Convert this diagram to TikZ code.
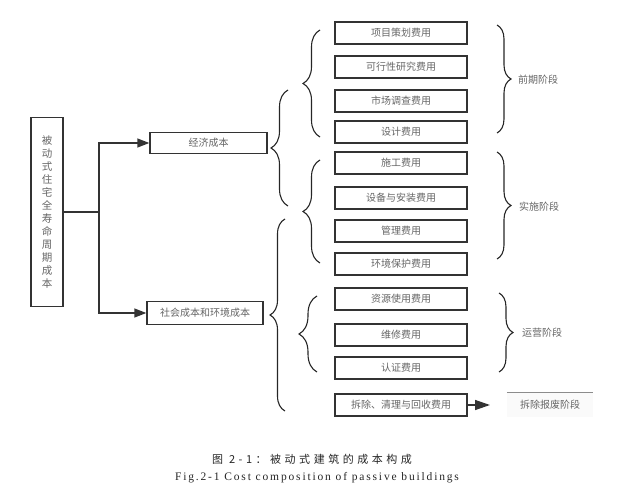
\documentclass[tikz,border=0pt]{standalone}
\usepackage{fontspec}
\setmainfont{Liberation Serif}
\newfontfamily\cjk{Noto Sans CJK SC}
\newfontfamily\cjkcap[LetterSpace=32]{Noto Sans CJK SC}
\newfontfamily\latcap[LetterSpace=16]{Liberation Serif}
\usetikzlibrary{arrows.meta,decorations.pathreplacing}
\definecolor{txt}{HTML}{666666}
\definecolor{edge}{HTML}{333333}
\tikzset{
  box/.style={draw=edge, line width=1.4pt, fill=white, text=txt, font=\cjk\fontsize{10}{11}\selectfont, inner sep=0pt},
  cost/.style={box, minimum width=132pt, minimum height=22pt},
  lab/.style={text=txt, font=\cjk\fontsize{10}{11}\selectfont, anchor=west, inner sep=0pt},
  conn/.style={draw=edge, line width=1.4pt},
  arr/.style={conn, -{Triangle[length=12pt,width=9pt]}},
  brc/.style={draw=black!85, line width=1.1pt, decorate, decoration={brace, amplitude=#1, aspect=0.5}},
}
\begin{document}
\begin{tikzpicture}[x=1pt,y=-1pt]
\useasboundingbox (0,0) rectangle (621,487);
% main box
\node[box, minimum width=32pt, minimum height=189pt, font=\cjk\fontsize{10.5}{13}\selectfont, align=center] (main) at (47,212)
  {被\\动\\式\\住\\宅\\全\\寿\\命\\周\\期\\成\\本};
\node[box, minimum width=117pt, minimum height=21pt] (econ) at (208.5,143) {经济成本};
\node[box, minimum width=116pt, minimum height=23pt] (soc) at (205,313) {社会成本和环境成本};
\coordinate (fork) at (99,212);
\draw[conn] (main.east) -- (fork);
\draw[arr] (fork) |- (econ.west);
\draw[arr] (fork) |- (soc.west);
% cost boxes
\node[cost] (c1) at (401,33) {项目策划费用};
\node[cost] (c2) at (401,67) {可行性研究费用};
\node[cost] (c3) at (401,101) {市场调查费用};
\node[cost] (c4) at (401,132) {设计费用};
\node[cost] (c5) at (401,163) {施工费用};
\node[cost] (c6) at (401,198) {设备与安装费用};
\node[cost] (c7) at (401,231) {管理费用};
\node[cost] (c8) at (401,264) {环境保护费用};
\node[cost] (c9) at (401,299) {资源使用费用};
\node[cost] (c10) at (401,335) {维修费用};
\node[cost] (c11) at (401,368) {认证费用};
\node[cost] (c12) at (401,405) {拆除、清理与回收费用};
% demolition stage
\node[lab, anchor=center, minimum width=86pt, minimum height=24pt, fill=black!2] (s4) at (550,405) {拆除报废阶段};
\draw[black!45, line width=0.8pt] (s4.north west) -- (s4.north east);
\draw[arr, -{Triangle[length=15pt,width=10pt]}] (c12.east) -- (490,405);
% braces (left-pointing)
\coordinate (bA1) at (288,206); \coordinate (bA2) at (288,90);
\draw[brc=17pt] (bA1) -- (bA2);
\coordinate (bB1) at (285,411); \coordinate (bB2) at (285,219);
\draw[brc=15pt] (bB1) -- (bB2);
\coordinate (bC1) at (320,137); \coordinate (bC2) at (320,30);
\draw[brc=17pt] (bC1) -- (bC2);
\coordinate (bD1) at (320,263); \coordinate (bD2) at (320,160);
\draw[brc=17pt] (bD1) -- (bD2);
\coordinate (bE1) at (317,372); \coordinate (bE2) at (317,296);
\draw[brc=18pt] (bE1) -- (bE2);
% braces (right-pointing)
\coordinate (rA1) at (497,25); \coordinate (rA2) at (497,133);
\draw[brc=14pt] (rA1) -- (rA2);
\coordinate (rB1) at (497,152); \coordinate (rB2) at (497,259);
\draw[brc=14pt] (rB1) -- (rB2);
\coordinate (rC1) at (499,293); \coordinate (rC2) at (499,372);
\draw[brc=14pt] (rC1) -- (rC2);
\node[lab] (s1) at (518,80) {前期阶段};
\node[lab] (s2) at (519,207) {实施阶段};
\node[lab] (s3) at (522,333) {运营阶段};
% captions
\node[text=black!85, font=\cjkcap\fontsize{11}{13}\selectfont, inner sep=0pt] (cap1) at (312,459) {图 2-1：被动式建筑的成本构成};
\node[text=black!85, font=\latcap\fontsize{11.5}{13}\selectfont, inner sep=0pt] (cap2) at (317,478) {Fig.2-1 Cost composition of passive buildings};
\end{tikzpicture}
\end{document}
